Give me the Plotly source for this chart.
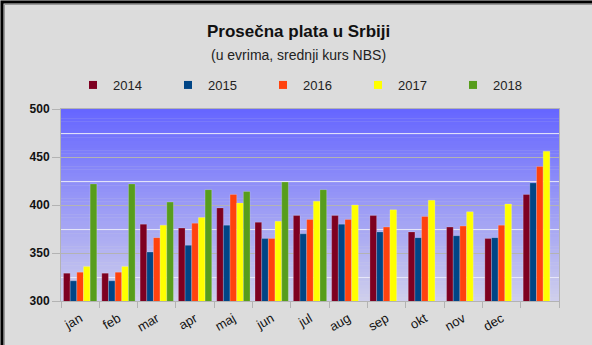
import plotly.graph_objects as go

# Average net salary in Serbia, EUR (NBS middle rate)
months = ["jan", "feb", "mar", "apr", "maj", "jun", "jul", "aug", "sep", "okt", "nov", "dec", " "]
years = ["2014", "2015", "2016", "2017", "2018"]

plata_2014 = [329, 329, 380, 376, 397, 382, 389, 389, 389, 372, 377, 365, 411]
plata_2015 = [321, 321, 351, 358, 379, 365, 370, 380, 372, 366, 368, 366, 423]
plata_2016 = [330, 330, 366, 381, 411, 365, 385, 385, 377, 388, 378, 379, 440]
plata_2017 = [336, 336, 379, 387, 402, 383, 404, 400, 395, 405, 393, 401, 456]
plata_2018 = [422, 422, 403, 416, 414, 424, 416, None, None, None, None, None, None]

series = [plata_2014, plata_2015, plata_2016, plata_2017, plata_2018]
colors = ["#7e0021", "#004586", "#ff420e", "#ffff00", "#579d1c"]

W, H = 592, 345
ML, MR, MT, MB = 61, 33, 109, 44
PW, PH = W - ML - MR, H - MT - MB

fig = go.Figure()

for yr, vals, col in zip(years, series, colors):
    fig.add_trace(go.Bar(
        x=months, y=vals, name=yr, showlegend=False,
        marker=dict(color=col, line=dict(color="rgba(255,255,255,0.25)", width=0.8)),
    ))

# compact square legend markers
for yr, col in zip(years, colors):
    fig.add_trace(go.Scatter(
        x=[None], y=[None], mode="markers", name=yr,
        marker=dict(symbol="square", size=8, color=col),
    ))

# vertical gradient behind the plot area
shapes = []
n = 60
top = (102, 102, 255)
bot = (206, 206, 236)
for i in range(n):
    t = i / (n - 1)
    c = tuple(round(bot[k] + (top[k] - bot[k]) * t) for k in range(3))
    shapes.append(dict(
        type="rect", xref="x domain", yref="y domain",
        x0=0, x1=1, y0=i / n, y1=(i + 1) / n + 0.002,
        fillcolor="rgb(%d,%d,%d)" % c, line=dict(width=0), layer="below",
    ))

# outer frame
def px_x(p):
    return (p - ML) / PW

def px_y(p):
    return (H - MB - p) / PH

shapes.append(dict(type="rect", xref="paper", yref="paper",
                   x0=px_x(2), x1=px_x(640), y0=px_y(400), y1=px_y(2),
                   line=dict(color="black", width=3), fillcolor="rgba(0,0,0,0)", layer="above"))
shapes.append(dict(type="rect", xref="paper", yref="paper",
                   x0=px_x(4.5), x1=px_x(640), y0=px_y(400), y1=px_y(4.5),
                   line=dict(color="#999999", width=1), fillcolor="rgba(0,0,0,0)", layer="above"))

fig.update_layout(
    width=W, height=H,
    margin=dict(l=ML, r=MR, t=MT, b=MB, autoexpand=False),
    paper_bgcolor="#dcdcdc",
    plot_bgcolor="rgba(0,0,0,0)",
    barmode="group", bargap=0.13, bargroupgap=0,
    shapes=shapes,
    font=dict(family="Liberation Sans, Arial, sans-serif", color="#1a1a1a"),
    showlegend=True,
    legend=dict(
        orientation="h", x=px_x(73), xanchor="left", y=px_y(85), yanchor="middle",
        entrywidth=50, entrywidthmode="pixels", itemwidth=30,
        font=dict(size=13, color="#222222"), bgcolor="rgba(0,0,0,0)",
        traceorder="normal",
    ),
    annotations=[
        dict(text="<b>Prosečna plata u Srbiji</b>", xref="paper", yref="paper",
             x=px_x(298), y=px_y(31), xanchor="center", yanchor="middle",
             showarrow=False, font=dict(size=17, color="#111111")),
        dict(text="(u evrima, srednji kurs NBS)", xref="paper", yref="paper",
             x=px_x(298), y=px_y(55), xanchor="center", yanchor="middle",
             showarrow=False, font=dict(size=14, color="#222222")),
    ],
)

fig.update_xaxes(
    type="category", tickson="boundaries", ticks="outside", ticklen=6,
    tickcolor="#b3b3b3", showline=True, linecolor="#b3b3b3", linewidth=1, mirror=True,
    showgrid=False, tickangle=-30, tickfont=dict(size=13, color="#111111"),
    ticklabelstandoff=4, automargin=False,
)
fig.update_yaxes(
    range=[300, 500], dtick=50, ticks="outside", ticklen=8, tickcolor="#b3b3b3",
    showline=True, linecolor="#b3b3b3", linewidth=1, mirror=True,
    showgrid=True, gridcolor="#b3b3b3", gridwidth=1, zeroline=False,
    tickfont=dict(size=12, color="#111111", weight="bold"), automargin=False,
    minor=dict(dtick=25, showgrid=True, gridcolor="rgba(235,235,250,0.9)", gridwidth=1, ticks=""),
)

fig.write_html("out.html")
